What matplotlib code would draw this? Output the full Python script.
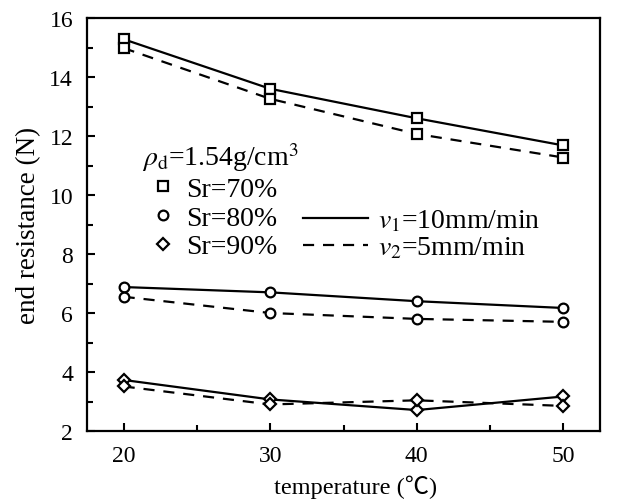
import numpy as np
import matplotlib
matplotlib.use("Agg")
import matplotlib.pyplot as plt
from matplotlib.lines import Line2D

plt.rcParams['font.family'] = ['Liberation Serif', 'Noto Sans CJK SC', 'DejaVu Sans']
plt.rcParams['mathtext.fontset'] = 'stix'

temp = [20, 30, 40, 50]
sr_labels = ['Sr=70%', 'Sr=80%', 'Sr=90%']
markers = ['s', 'o', 'D']
# v1 = 10 mm/min (solid)
v1_sr70 = [15.28, 13.60, 12.60, 11.68]
v1_sr80 = [6.88, 6.70, 6.40, 6.17]
v1_sr90 = [3.73, 3.07, 2.71, 3.17]
# v2 = 5 mm/min (dashed)
v2_sr70 = [14.98, 13.26, 12.07, 11.27]
v2_sr80 = [6.55, 6.00, 5.80, 5.70]
v2_sr90 = [3.51, 2.90, 3.04, 2.85]

v1 = [v1_sr70, v1_sr80, v1_sr90]
v2 = [v2_sr70, v2_sr80, v2_sr90]

fig = plt.figure(figsize=(6.39, 5.02), dpi=100)
ax = fig.add_axes([87/639, 70/502, 513/639, 413/502])

for m, a, b in zip(markers, v1, v2):
    ms = 6 if m == 'D' else 7
    ax.plot(temp, a, '-', color='black', lw=1.6, marker=m, ms=ms, mfc='white', mec='black', mew=1.6)
    ax.plot(temp, b, '--', color='black', lw=1.6, dashes=(5, 4), marker=m, ms=ms, mfc='white', mec='black', mew=1.6)

ax.set_xlim(17.5, 52.5)
ax.set_ylim(2, 16)
ax.set_xticks([20, 30, 40, 50])
ax.set_xticks([25, 35, 45], minor=True)
ax.set_yticks(np.arange(2, 17, 2))
ax.set_yticks(np.arange(3, 16, 2), minor=True)
ax.tick_params(which='both', direction='in', labelsize=17, width=1.5, pad=10)
ax.tick_params(which='major', length=6)
ax.tick_params(which='minor', length=4)
for s in ax.spines.values():
    s.set_linewidth(1.6)

ax.set_xlabel('temperature (\u2103)', fontsize=17.5)
ax.xaxis.set_label_coords(0.524, -0.105)
ax.set_ylabel('end resistance (N)', fontsize=19.5, labelpad=6)

fs = 20
h1 = [Line2D([], [], ls='none', marker=m, ms=6 if m == 'D' else 7, mfc='white', mec='black', mew=1.6) for m in markers]
leg1 = ax.legend(h1, sr_labels, loc='upper left', bbox_to_anchor=(0.107, 0.704),
                 frameon=False, fontsize=fs, title=r'$\rho_{\rm d}$=1.54g/cm$^3$',
                 title_fontsize=fs, alignment='left', labelspacing=0.12,
                 handlelength=1.5, handletextpad=0.1, borderpad=0, borderaxespad=0)
ax.add_artist(leg1)

h2 = [Line2D([], [], color='black', lw=1.6, ls='-'),
      Line2D([], [], color='black', lw=1.6, ls='--', dashes=(5, 4))]
ax.legend(h2, [r'$v_1$=10mm/min', r'$v_2$=5mm/min'], loc='upper left',
          bbox_to_anchor=(0.421, 0.540), frameon=False, fontsize=fs,
          labelspacing=0.05, handlelength=2.34, handletextpad=0.36,
          borderpad=0, borderaxespad=0)

fig.savefig('out.png', dpi=100)
